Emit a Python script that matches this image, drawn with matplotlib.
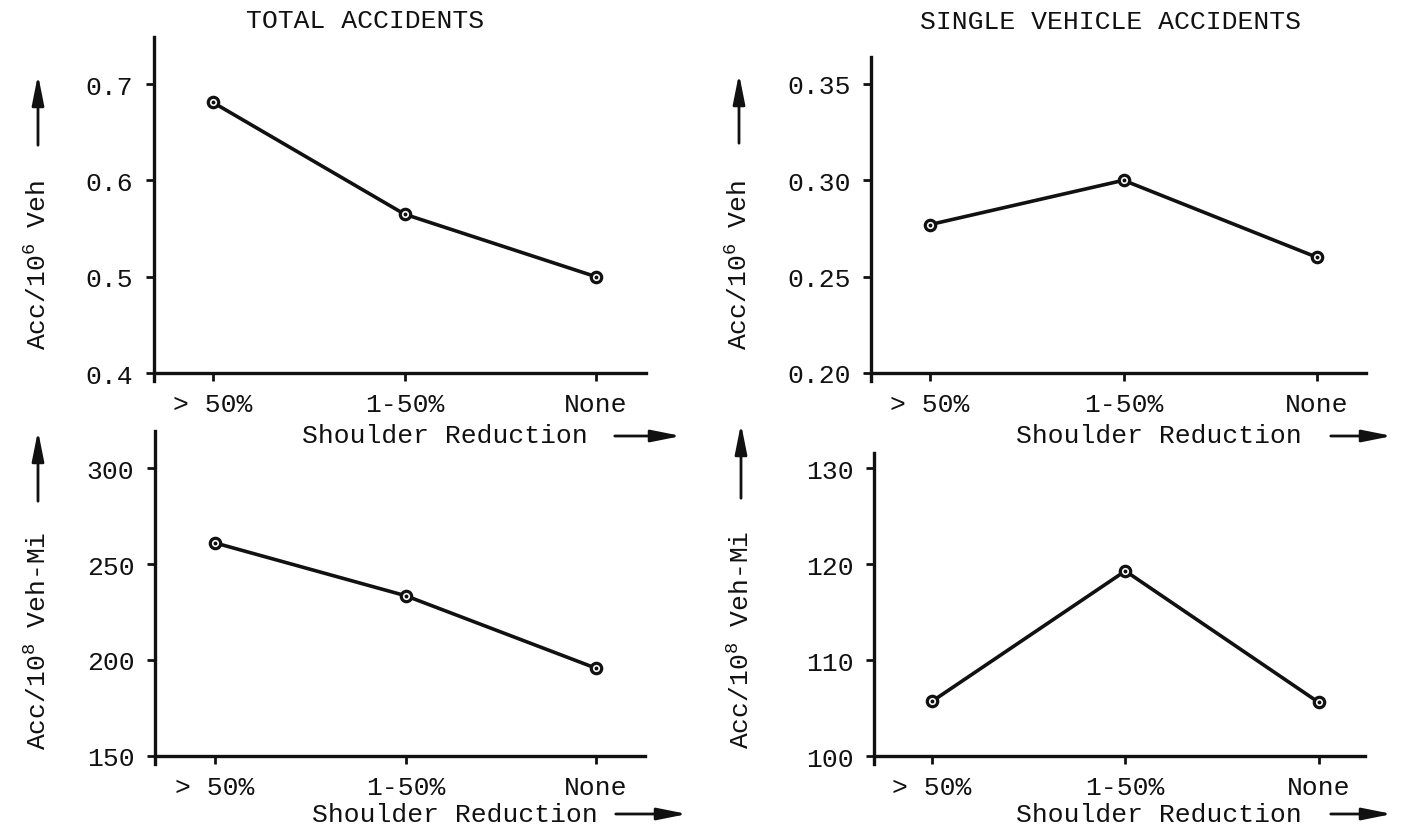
import matplotlib
matplotlib.use('Agg')
import matplotlib.pyplot as plt
from matplotlib.patches import FancyArrowPatch

# canvas size in pixels (dpi 100)
W, H = 1405, 829
INK = '#111111'

categories = ['> 50%', '1-50%', 'None']

total_per_veh = [0.681, 0.565, 0.500]
single_per_veh = [0.277, 0.300, 0.260]
total_per_vmi = [261.0, 233.5, 195.7]
single_per_vmi = [105.7, 119.3, 105.6]

ticks_total_veh = [0.4, 0.5, 0.6, 0.7]
ticks_single_veh = [0.20, 0.25, 0.30, 0.35]
ticks_total_vmi = [150, 200, 250, 300]
ticks_single_vmi = [100, 110, 120, 130]

titles = ['TOTAL ACCIDENTS', 'SINGLE VEHICLE ACCIDENTS']
ylabel_veh = 'Acc/10$^{6}$ Veh'
ylabel_vmi = 'Acc/10$^{8}$ Veh-Mi'
xlabel = 'Shoulder Reduction'

plt.rcParams['font.family'] = ['Liberation Mono', 'DejaVu Sans Mono']
plt.rcParams['mathtext.default'] = 'regular'
FS = 19


def fx(px):
    return px / W


def fy(py):
    return 1 - py / H


def arrow(fig, p0, p1):
    a = FancyArrowPatch((fx(p0[0]), fy(p0[1])), (fx(p1[0]), fy(p1[1])),
                        transform=fig.transFigure,
                        arrowstyle='-|>,head_length=1.0,head_width=0.2',
                        mutation_scale=18, lw=2.0, color=INK)
    fig.add_artist(a)


def panel(fig, box, values, ticks, fmt, ylim, xlim):
    left, top, right, bottom = box
    ax = fig.add_axes([fx(left), fy(bottom), (right - left) / W, (bottom - top) / H])
    x = list(range(len(categories)))
    # line with open circle markers, plus the small dot in each circle
    ax.plot(x, values, color=INK, lw=2.6, marker='o', ms=7.5, mfc='white',
            mec=INK, mew=2.3, zorder=3, clip_on=False)
    ax.plot(x, values, ls='none', marker='o', ms=1.8, color=INK, zorder=4)
    ax.set_xlim(*xlim)
    ax.set_ylim(*ylim)
    for s in ['top', 'right']:
        ax.spines[s].set_visible(False)
    ax.spines['bottom'].set_position(('data', ticks[0]))
    for s in ['left', 'bottom']:
        ax.spines[s].set_linewidth(2.4)
        ax.spines[s].set_color(INK)
    ax.set_xticks(x, categories)
    ax.set_yticks(ticks, [fmt.format(t) for t in ticks])
    ax.tick_params(axis='both', direction='out', length=5.8, width=2.0,
                   color=INK, labelsize=FS, labelcolor=INK)
    ax.tick_params(axis='y', pad=9)
    ax.tick_params(axis='x', pad=8)
    return ax


fig = plt.figure(figsize=(W / 100, H / 100), dpi=100)

# top row: accidents per million vehicles
panel(fig, (154, 38, 646, 382), total_per_veh, ticks_total_veh, '{:.1f}',
      (0.3917, 0.749), (-0.308, 2.261))
panel(fig, (871, 58, 1366, 382), single_per_veh, ticks_single_veh, '{:.2f}',
      (0.1958, 0.364), (-0.305, 2.253))

# bottom row: accidents per 100 million vehicle-miles
panel(fig, (155, 432, 645, 765), total_per_vmi, ticks_total_vmi, '{:d}',
      (145.8, 319.3), (-0.315, 2.257))
panel(fig, (874, 454, 1365, 765), single_per_vmi, ticks_single_vmi, '{:d}',
      (99.17, 131.6), (-0.30, 2.24))

# column titles
fig.text(fx(365), fy(21), titles[0], ha='center', va='center', fontsize=FS, color=INK)
fig.text(fx(1110), fy(22), titles[1], ha='center', va='center', fontsize=FS, color=INK)

# y labels with upward arrows
for xc, yc, lab in [(38, 265, ylabel_veh), (739, 265, ylabel_veh),
                    (38, 641, ylabel_vmi), (741, 640, ylabel_vmi)]:
    fig.text(fx(xc), fy(yc), lab, rotation=90, ha='center', va='center',
             fontsize=FS, color=INK)
arrow(fig, (38, 149), (38, 73))
arrow(fig, (739, 147), (739, 72))
arrow(fig, (38, 505), (38, 429))
arrow(fig, (741, 502), (741, 422))

# x labels with rightward arrows
for xc, yc in [(445, 436), (1159, 436), (455, 815), (1159, 815)]:
    fig.text(fx(xc), fy(yc), xlabel, ha='center', va='center', fontsize=FS, color=INK)
arrow(fig, (612, 437), (684, 437))
arrow(fig, (1328, 437), (1395, 437))
arrow(fig, (613, 815), (690, 815))
arrow(fig, (1328, 815), (1395, 815))

fig.savefig('out.png', dpi=100, facecolor='white')
